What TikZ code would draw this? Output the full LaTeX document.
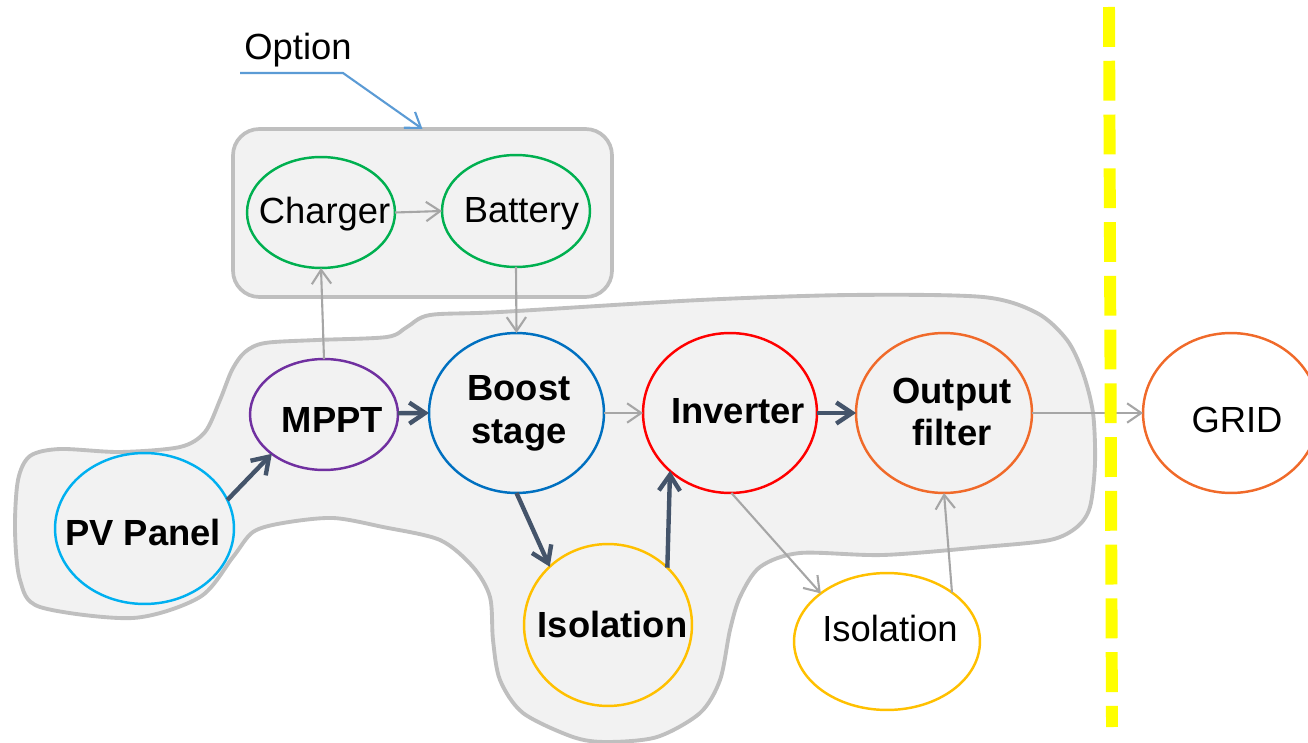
\documentclass[tikz,border=0pt]{standalone}
\usepackage{fontspec}
\setmainfont{Liberation Sans}
\usetikzlibrary{shapes.geometric,arrows.meta}
\definecolor{darkarrow}{HTML}{44546A}
\definecolor{grayarrow}{HTML}{A6A6A6}
\definecolor{blobedge}{HTML}{BFBFBF}
\definecolor{blobfill}{HTML}{F2F2F2}
\definecolor{pvblue}{HTML}{00B0F0}
\definecolor{mpptpurple}{HTML}{7030A0}
\definecolor{boostblue}{HTML}{0070C0}
\definecolor{invred}{HTML}{FF0000}
\definecolor{outorange}{HTML}{F06A2A}
\definecolor{isoyellow}{HTML}{FFC000}
\definecolor{chgreen}{HTML}{00B050}
\definecolor{optblue}{HTML}{5B9BD5}
\definecolor{gridyellow}{HTML}{FFFF00}
\begin{document}
\begin{tikzpicture}[x=0.02cm,y=-0.02cm,
  ell/.style n args={3}{ellipse, draw=#1, line width=1.4pt, inner sep=0pt, outer sep=0pt,
     minimum width=#2*0.04cm, minimum height=#3*0.04cm},
  lbl/.style={inner sep=0pt, font=\fontsize{20.7}{24.4}\selectfont},
  blbl/.style={inner sep=0pt, align=center, font=\fontsize{20.7}{24.4}\selectfont\bfseries},
  darrow/.style={draw=darkarrow, line width=2.5pt, -{Straight Barb[length=9pt,width=12pt]}},
  garrow/.style={draw=grayarrow, line width=1.2pt, -{Straight Barb[length=8pt,width=11pt]}},
  oarrow/.style={draw=optblue, line width=1.2pt, -{Straight Barb[length=8pt,width=11pt]}},
]
\useasboundingbox (0,0) rectangle (1308,743);
\clip (0,0) rectangle (1308,743);

% big grey blob
\draw[draw=blobedge, fill=blobfill, line width=2.2pt]
  plot[smooth cycle, tension=0.5] coordinates {
  (15,530) (18,480) (30,456) (60,449) (120,452) (180,447) (205,432) (220,400)
  (232,370) (245,352) (265,343) (317,340) (387,337) (407,327) (430,315) (500,312)
  (700,300) (850,295) (983,297) (1037,313) (1067,340) (1083,373) (1093,413)
  (1095,463) (1090,507) (1077,527) (1050,540) (983,547) (883,555) (800,553)
  (760,567) (740,597) (730,630) (720,680) (700,713) (657,737) (607,742) (573,737)
  (523,713) (500,680) (493,640) (490,597) (473,567) (440,540) (383,527) (333,518)
  (283,523) (253,532) (233,557) (200,597) (133,618) (40,607) (20,580)};

% option box
\node[draw=blobedge, fill=blobfill, line width=2.1pt, rounded corners=15pt,
  minimum width=379*0.02cm, minimum height=168*0.02cm, inner sep=0pt, outer sep=0pt]
  (optbox) at (422.5,213) {};

% ellipses
\node[ell={pvblue}{89.5}{75.5}] (pv) at (144.5,528.5) {};
\node[ell={mpptpurple}{74}{55.5}] (mppt) at (324,414.5) {};
\node[ell={boostblue}{87.5}{80}] (boost) at (516.5,413) {};
\node[ell={invred}{87}{80}] (inv) at (730,413) {};
\node[ell={outorange}{88}{80}] (out) at (944,413) {};
\node[ell={outorange}{88}{80}] (grid) at (1231,413) {};
\node[ell={isoyellow}{84}{81}] (iso) at (608,625) {};
\node[ell={isoyellow}{93}{68.5}, fill=white] (iso2) at (887,641.5) {};
\node[ell={chgreen}{74}{55.5}] (charger) at (321,212.5) {};
\node[ell={chgreen}{74}{56}] (battery) at (516,211) {};

% labels
\node[blbl, anchor=base] (pvt) at (143,545) {PV Panel};
\node[blbl, anchor=base] (mpptt) at (332.5,432) {MPPT};
\node[blbl] (boostt) at (519,413) {Boost\\stage};
\node[blbl, anchor=base] (invt) at (738,423) {Inverter};
\node[blbl] (outt) at (952,412) {Output\\filter};
\node[blbl, anchor=base] (isot) at (612.5,637) {Isolation};
\node[lbl, anchor=base] (gridt) at (1237,432) {GRID};
\node[lbl, anchor=base] (iso2t) at (890,641) {Isolation};
\node[lbl, anchor=base] (chargert) at (324.5,224) {Charger};
\node[lbl, anchor=base] (batteryt) at (521.5,223) {Battery};
\node[lbl, anchor=base] (optt) at (298,60) {Option};

% connectors
\coordinate (optstart) at (240,73);
\coordinate (optbend) at (343,73);
\draw[oarrow] (optstart) -- (optbend) -- (optbox.north);

\draw[darrow] (pv.19.6) -- (mppt.217.9);
\draw[darrow] (mppt.1) -- (boost.180);
\draw[darrow] (boost.270) -- (iso.135.5);
\draw[darrow] (iso.44) -- (inv.224);
\draw[darrow] (inv.east) -- (out.west);

\draw[garrow] (boost.east) -- (inv.west);
\draw[garrow] (out.east) -- (grid.west);
\draw[garrow] (inv.271.4) -- (iso2.144.7);
\draw[garrow] (iso2.37.4) -- (out.270.7);
\draw[garrow] (mppt.north) -- (charger.south);
\draw[garrow] (charger.east) -- (battery.west);
\draw[garrow] (battery.south) -- (boost.north);

% yellow dashed boundary
\draw[draw=gridyellow, line width=6.8pt, dash pattern=on 22.7pt off 7.9pt] (1109,7) -- (1112,727);
\end{tikzpicture}
\end{document}
